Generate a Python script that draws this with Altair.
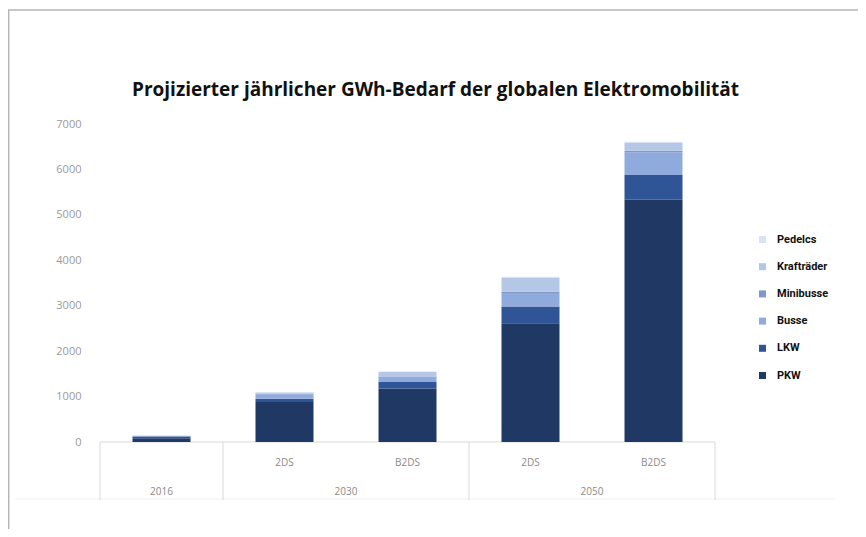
import altair as alt
import pandas as pd

# ---- data ----
positions = [0, 1, 2, 3, 4]
sub_labels = ["", "2DS", "B2DS", "2DS", "B2DS"]
groups = ["2016", "2030", "2050"]
group_centers = [0, 1.5, 3.5]
separators = [-0.5, 0.5, 2.5, 4.5]

series = ["PKW", "LKW", "Busse", "Minibusse", "Krafträder", "Pedelcs"]
PKW = [80, 880, 1180, 2615, 5330]
LKW = [40, 70, 140, 365, 550]
Busse = [20, 100, 110, 300, 500]
Minibusse = [0, 10, 10, 30, 30]
Kraftraeder = [0, 30, 100, 300, 170]
Pedelcs = [0, 5, 10, 30, 30]
values = [PKW, LKW, Busse, Minibusse, Kraftraeder, Pedelcs]

legend_order = ["Pedelcs", "Krafträder", "Minibusse", "Busse", "LKW", "PKW"]
legend_colors = ["#dae3f3", "#b4c7e7", "#7e98c8", "#8faadc", "#2f5597", "#203864"]

y_ticks = [0, 1000, 2000, 3000, 4000, 5000, 6000, 7000]
title_text = ["Projizierter jährlicher GWh-Bedarf der globalen Elektromobilität"]

rows = []
for si, (s, vals) in enumerate(zip(series, values)):
    for p, v in zip(positions, vals):
        rows.append({"pos": p, "series": s, "value": v, "ord": si})
df = pd.DataFrame(rows)

W, H = 625, 318

xscale = alt.Scale(domain=[-0.5, 4.5], nice=False, zero=False)
yscale = alt.Scale(domain=[0, 7000], nice=False)
yaxis = alt.Axis(values=y_ticks, format="d", title=None, grid=False, domain=False,
                 ticks=False, labelColor="#9a9a9a", labelFontSize=11,
                 labelFont="Open Sans", labelPadding=14)

bars = alt.Chart(df).mark_bar(size=58, orient="vertical").encode(
    x=alt.X("pos:Q", scale=xscale, axis=None),
    y=alt.Y("value:Q", stack="zero", scale=yscale, axis=yaxis),
    color=alt.Color("series:N",
                    scale=alt.Scale(domain=legend_order, range=legend_colors),
                    legend=alt.Legend(title=None, orient="none", legendX=662, legendY=110,
                                      symbolType="square", symbolSize=49,
                                      symbolStrokeWidth=0, labelFontSize=11,
                                      labelFont="Roboto", labelFontWeight="bold",
                                      labelColor="#111", rowPadding=15.2,
                                      labelOffset=9)),
    order=alt.Order("ord:Q", sort="ascending"),
)

base_df = pd.DataFrame({"x": [separators[0]], "x2": [separators[-1]], "y": [0]})
baseline = alt.Chart(base_df).mark_rule(color="#d9d9d9", strokeWidth=1).encode(
    x=alt.X("x:Q", scale=xscale, axis=None), x2="x2:Q",
    y=alt.Y("y:Q", scale=yscale, axis=yaxis))

sep_df = pd.DataFrame({"x": separators})
seps = alt.Chart(sep_df).mark_rule(color="#d9d9d9", strokeWidth=1).encode(
    x=alt.X("x:Q", scale=xscale, axis=None), y=alt.value(H), y2=alt.value(H + 58))

sub_df = pd.DataFrame({"pos": positions, "label": sub_labels})
subtext = alt.Chart(sub_df).mark_text(fontSize=10, color="#8a8a8a", font="Open Sans",
                                      baseline="middle").encode(
    x=alt.X("pos:Q", scale=xscale, axis=None), y=alt.value(H + 21), text="label:N")

grp_df = pd.DataFrame({"pos": group_centers, "label": groups})
grptext = alt.Chart(grp_df).mark_text(fontSize=10, color="#8a8a8a", font="Open Sans",
                                      baseline="middle").encode(
    x=alt.X("pos:Q", scale=xscale, axis=None), y=alt.value(H + 50), text="label:N")

title_df = pd.DataFrame({"t": title_text})
title = alt.Chart(title_df).mark_text(fontSize=19, font="Open Sans", fontWeight="bold",
                                      color="#111", baseline="middle", align="center").encode(
    x=alt.value(W / 2 + 28), y=alt.value(-34), text="t:N")

faint = alt.Chart(base_df).mark_rule(color="#f1f1f1", strokeWidth=1).encode(
    x=alt.value(-80), x2=alt.value(740), y=alt.value(H + 57))

frame_top = alt.Chart(base_df).mark_rule(color="#b5b5b5", strokeWidth=1.5).encode(
    x=alt.value(-87), x2=alt.value(W + 138), y=alt.value(-114))
frame_left = alt.Chart(base_df).mark_rule(color="#b5b5b5", strokeWidth=1.5).encode(
    x=alt.value(-86.3), y=alt.value(-114), y2=alt.value(H + 87))

chart = alt.layer(frame_top, frame_left, faint, baseline, seps, bars, subtext, grptext, title).properties(
    width=W, height=H,
    autosize=alt.AutoSizeParams(type="none"),
    padding={"left": 87, "top": 116, "right": 138, "bottom": 87},
).configure_view(stroke=None)

chart.save("out.html", embed_options={"renderer": "svg", "actions": False})
